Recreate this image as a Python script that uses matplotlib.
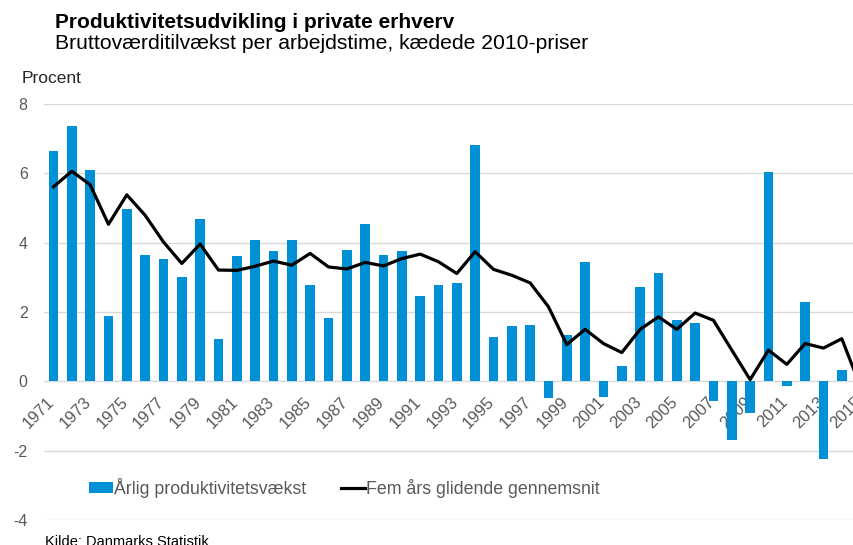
import numpy as np
import matplotlib
matplotlib.use("Agg")
import matplotlib.pyplot as plt
import matplotlib.transforms as mtransforms

plt.rcParams['font.family'] = ['Liberation Sans', 'DejaVu Sans']

# === data ===
years = list(range(1971, 2016))
aarlig = [6.63, 7.37, 6.10, 1.88, 4.96, 3.65, 3.53, 3.00, 4.68, 1.21,
          3.61, 4.08, 3.76, 4.07, 2.79, 1.82, 3.80, 4.55, 3.63, 3.77,
          2.46, 2.77, 2.83, 6.81, 1.27, 1.59, 1.62, -0.48, 1.33, 3.44,
          -0.46, 0.43, 2.73, 3.12, 1.76, 1.69, -0.58, -1.68, -0.91, 6.03,
          -0.13, 2.29, -2.25, 0.34, -0.90]
glidende = [5.61, 6.06, 5.67, 4.53, 5.38, 4.79, 4.02, 3.40, 3.96, 3.21,
            3.20, 3.32, 3.47, 3.35, 3.69, 3.30, 3.24, 3.43, 3.33, 3.54,
            3.67, 3.45, 3.11, 3.74, 3.23, 3.06, 2.84, 2.15, 1.06, 1.50,
            1.09, 0.83, 1.50, 1.86, 1.50, 1.97, 1.76, 0.90, 0.05, 0.90,
            0.49, 1.09, 0.96, 1.23, -0.13]
yticks = [-4, -2, 0, 2, 4, 6, 8]

blue = '#0090D5'
grey = '#595959'

W, H = 854, 545
fig = plt.figure(figsize=(W / 100, H / 100), dpi=100)
# plot area runs a bit past the right edge, like the cropped original
ax = fig.add_axes([44.3 / W, 25 / H, 825 / W, 416 / H])

x = np.arange(len(years))
bars = ax.bar(x, aarlig, width=0.53, color=blue, zorder=2)
line, = ax.plot(x, glidende, color='black', lw=2.3, zorder=3)

ax.set_xlim(-0.5, len(years) - 0.5)
ax.set_ylim(-4, 8)
ax.set_yticks(yticks)
ax.set_yticklabels([str(v) for v in yticks])
ax.yaxis.grid(True, color='#D9D9D9', lw=1.0, zorder=0)
ax.set_axisbelow(True)

# x labels sit on the zero line
ax.spines['bottom'].set_position(('data', 0))
for s in ax.spines.values():
    s.set_color('none')
ax.set_xticks(x[::2])
ax.set_xticklabels([str(y) for y in years[::2]], rotation=45, ha='right', va='top')
ax.tick_params(axis='x', length=0, pad=9, labelsize=12, labelcolor=grey)
ax.tick_params(axis='y', length=0, pad=12, labelsize=11.5, labelcolor=grey)
shift = mtransforms.ScaledTranslation(4 / 100, 0, fig.dpi_scale_trans)
for lab in ax.get_xticklabels():
    lab.set_transform(lab.get_transform() + shift)

# titles
fig.text(55 / W, 1 - 27.5 / H, 'Produktivitetsudvikling i private erhverv',
         fontsize=15, fontweight='bold', va='baseline', ha='left')
fig.text(55 / W, 1 - 49 / H, 'Bruttoværditilvækst per arbejdstime, kædede 2010-priser',
         fontsize=15.2, va='baseline', ha='left')
fig.text(22 / W, 1 - 83 / H, 'Procent', fontsize=12.5, va='baseline', ha='left', color='#262626')
fig.text(45 / W, 1 - 535 / H, 'Kilde: Danmarks Statistik', fontsize=10.5, va='top', ha='left')

leg = fig.legend([bars, line], ['Årlig produktivitetsvækst', 'Fem års glidende gennemsnit'],
                 loc='center left', bbox_to_anchor=(89 / W, 1 - 488 / H),
                 ncol=2, frameon=False, fontsize=12.8, borderpad=0, borderaxespad=0,
                 handlelength=1.35, handleheight=0.55, handletextpad=0.05,
                 columnspacing=1.95)
for t in leg.get_texts():
    t.set_color(grey)

fig.savefig('out.png', dpi=100)
